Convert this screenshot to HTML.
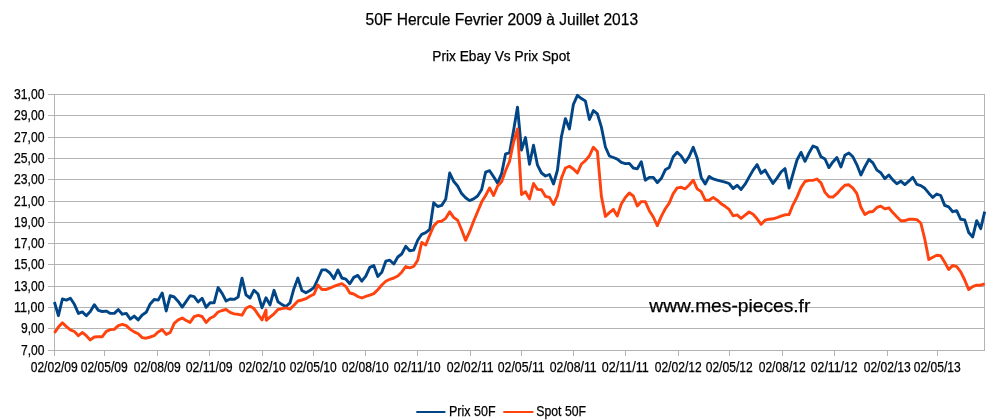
<!DOCTYPE html>
<html><head><meta charset="utf-8"><title>50F Hercule</title>
<style>
html,body{margin:0;padding:0;background:#fff;}
body{width:1004px;height:420px;overflow:hidden;font-family:"Liberation Sans",sans-serif;}
svg{display:block}
text{font-family:"Liberation Sans",sans-serif;fill:#000;stroke:#000;stroke-width:0.25px}
</style></head><body>
<svg width="1004" height="420" viewBox="0 0 1004 420">
<rect width="1004" height="420" fill="#fff"/>

<g stroke="#b3b3b3" stroke-width="1" fill="none" shape-rendering="crispEdges">
<line x1="48" y1="94.5" x2="985" y2="94.5"/>
<line x1="48" y1="115.5" x2="985" y2="115.5"/>
<line x1="48" y1="137.5" x2="985" y2="137.5"/>
<line x1="48" y1="158.5" x2="985" y2="158.5"/>
<line x1="48" y1="179.5" x2="985" y2="179.5"/>
<line x1="48" y1="201.5" x2="985" y2="201.5"/>
<line x1="48" y1="222.5" x2="985" y2="222.5"/>
<line x1="48" y1="243.5" x2="985" y2="243.5"/>
<line x1="48" y1="264.5" x2="985" y2="264.5"/>
<line x1="48" y1="286.5" x2="985" y2="286.5"/>
<line x1="48" y1="307.5" x2="985" y2="307.5"/>
<line x1="48" y1="328.5" x2="985" y2="328.5"/>
<line x1="48" y1="350.5" x2="985" y2="350.5"/>
<line x1="54.5" y1="94" x2="54.5" y2="351"/>
<line x1="984.5" y1="94" x2="984.5" y2="351"/>
<line x1="54.5" y1="350" x2="54.5" y2="356"/>
<line x1="104.5" y1="350" x2="104.5" y2="356"/>
<line x1="157.5" y1="350" x2="157.5" y2="356"/>
<line x1="209.5" y1="350" x2="209.5" y2="356"/>
<line x1="262.5" y1="350" x2="262.5" y2="356"/>
<line x1="313.5" y1="350" x2="313.5" y2="356"/>
<line x1="365.5" y1="350" x2="365.5" y2="356"/>
<line x1="417.5" y1="350" x2="417.5" y2="356"/>
<line x1="470.5" y1="350" x2="470.5" y2="356"/>
<line x1="521.5" y1="350" x2="521.5" y2="356"/>
<line x1="573.5" y1="350" x2="573.5" y2="356"/>
<line x1="625.5" y1="350" x2="625.5" y2="356"/>
<line x1="678.5" y1="350" x2="678.5" y2="356"/>
<line x1="729.5" y1="350" x2="729.5" y2="356"/>
<line x1="782.5" y1="350" x2="782.5" y2="356"/>
<line x1="834.5" y1="350" x2="834.5" y2="356"/>
<line x1="887.5" y1="350" x2="887.5" y2="356"/>
<line x1="937.5" y1="350" x2="937.5" y2="356"/>
</g>
<g font-size="14" text-anchor="end">
<text x="44.5" y="99.0" textLength="30.5" lengthAdjust="spacingAndGlyphs">31,00</text>
<text x="44.5" y="120.0" textLength="30.5" lengthAdjust="spacingAndGlyphs">29,00</text>
<text x="44.5" y="142.0" textLength="30.5" lengthAdjust="spacingAndGlyphs">27,00</text>
<text x="44.5" y="163.0" textLength="30.5" lengthAdjust="spacingAndGlyphs">25,00</text>
<text x="44.5" y="184.0" textLength="30.5" lengthAdjust="spacingAndGlyphs">23,00</text>
<text x="44.5" y="206.0" textLength="30.5" lengthAdjust="spacingAndGlyphs">21,00</text>
<text x="44.5" y="227.0" textLength="30.5" lengthAdjust="spacingAndGlyphs">19,00</text>
<text x="44.5" y="248.0" textLength="30.5" lengthAdjust="spacingAndGlyphs">17,00</text>
<text x="44.5" y="269.0" textLength="30.5" lengthAdjust="spacingAndGlyphs">15,00</text>
<text x="44.5" y="291.0" textLength="30.5" lengthAdjust="spacingAndGlyphs">13,00</text>
<text x="44.5" y="312.0" textLength="30.5" lengthAdjust="spacingAndGlyphs">11,00</text>
<text x="44.5" y="333.0" textLength="23.5" lengthAdjust="spacingAndGlyphs">9,00</text>
<text x="44.5" y="355.0" textLength="23.5" lengthAdjust="spacingAndGlyphs">7,00</text>
</g>
<g font-size="14" text-anchor="middle">
<text x="54.2" y="371.9" textLength="47" lengthAdjust="spacingAndGlyphs">02/02/09</text>
<text x="104.2" y="371.9" textLength="47" lengthAdjust="spacingAndGlyphs">02/05/09</text>
<text x="157.2" y="371.9" textLength="47" lengthAdjust="spacingAndGlyphs">02/08/09</text>
<text x="209.2" y="371.9" textLength="47" lengthAdjust="spacingAndGlyphs">02/11/09</text>
<text x="262.2" y="371.9" textLength="47" lengthAdjust="spacingAndGlyphs">02/02/10</text>
<text x="313.2" y="371.9" textLength="47" lengthAdjust="spacingAndGlyphs">02/05/10</text>
<text x="365.2" y="371.9" textLength="47" lengthAdjust="spacingAndGlyphs">02/08/10</text>
<text x="417.2" y="371.9" textLength="47" lengthAdjust="spacingAndGlyphs">02/11/10</text>
<text x="470.2" y="371.9" textLength="47" lengthAdjust="spacingAndGlyphs">02/02/11</text>
<text x="521.2" y="371.9" textLength="47" lengthAdjust="spacingAndGlyphs">02/05/11</text>
<text x="573.2" y="371.9" textLength="47" lengthAdjust="spacingAndGlyphs">02/08/11</text>
<text x="625.2" y="371.9" textLength="47" lengthAdjust="spacingAndGlyphs">02/11/11</text>
<text x="678.2" y="371.9" textLength="47" lengthAdjust="spacingAndGlyphs">02/02/12</text>
<text x="729.2" y="371.9" textLength="47" lengthAdjust="spacingAndGlyphs">02/05/12</text>
<text x="782.2" y="371.9" textLength="47" lengthAdjust="spacingAndGlyphs">02/08/12</text>
<text x="834.2" y="371.9" textLength="47" lengthAdjust="spacingAndGlyphs">02/11/12</text>
<text x="887.2" y="371.9" textLength="47" lengthAdjust="spacingAndGlyphs">02/02/13</text>
<text x="937.2" y="371.9" textLength="47" lengthAdjust="spacingAndGlyphs">02/05/13</text>
</g>
<text x="501.8" y="24.9" font-size="16" text-anchor="middle" textLength="272.5" lengthAdjust="spacingAndGlyphs">50F Hercule Fevrier 2009 à Juillet 2013</text>
<text x="501.2" y="60.5" font-size="14" text-anchor="middle" textLength="137.7" lengthAdjust="spacingAndGlyphs">Prix Ebay Vs Prix Spot</text>
<text x="649.3" y="311.5" font-size="19" textLength="161" lengthAdjust="spacingAndGlyphs">www.mes-pieces.fr</text>
<g fill="none" stroke-width="2.9" stroke-linejoin="round" stroke-linecap="butt">
<path stroke="#004586" d="M54.4,302.0 L58.4,315.7 L62.4,299.0 L66.4,300.1 L70.4,298.2 L74.4,304.3 L78.4,313.4 L82.3,311.9 L86.3,315.7 L90.3,311.5 L94.3,304.7 L98.3,310.4 L102.3,311.5 L106.3,311.1 L110.3,313.4 L114.3,313.4 L118.3,309.6 L122.3,314.2 L126.3,313.4 L130.3,319.1 L134.2,316.1 L138.2,319.9 L142.2,315.0 L146.2,312.3 L150.2,303.9 L154.2,299.5 L158.2,300.1 L162.2,292.9 L166.2,311.0 L170.2,295.7 L174.2,297.0 L178.2,301.4 L182.2,307.1 L186.2,301.4 L190.1,295.7 L194.1,296.7 L198.1,302.0 L202.1,298.2 L206.1,307.3 L210.1,302.8 L214.1,302.9 L218.1,287.6 L222.1,293.3 L226.1,301.0 L230.1,299.0 L234.1,299.4 L238.1,297.1 L242.0,278.1 L246.0,294.8 L250.0,298.0 L254.0,290.2 L258.0,294.0 L262.0,307.8 L266.0,297.8 L270.0,304.9 L274.0,290.3 L278.0,301.8 L282.0,304.6 L286.0,306.5 L290.0,302.9 L293.9,288.7 L297.9,278.1 L301.9,290.5 L305.9,292.8 L309.9,290.5 L313.9,287.6 L317.9,279.0 L321.9,269.9 L325.9,269.9 L329.9,273.0 L333.9,278.7 L337.9,269.9 L341.9,278.0 L345.9,279.2 L349.8,283.7 L353.8,277.4 L357.8,275.4 L361.8,281.2 L365.8,276.2 L369.8,267.3 L373.8,265.6 L377.8,276.4 L381.8,272.3 L385.8,261.2 L389.8,260.2 L393.8,264.0 L397.8,257.0 L401.7,254.0 L405.7,246.3 L409.7,250.7 L413.7,250.1 L417.7,240.2 L421.7,234.3 L425.7,232.6 L429.7,229.5 L433.7,202.7 L437.7,206.5 L441.7,205.4 L445.7,199.3 L449.7,173.0 L453.6,181.2 L457.6,186.0 L461.6,193.6 L465.6,197.8 L469.6,200.6 L473.6,198.9 L477.6,196.0 L481.6,189.8 L485.6,172.2 L489.6,170.7 L493.6,176.8 L497.6,183.1 L501.6,173.6 L505.6,153.8 L509.5,152.9 L513.5,131.0 L517.5,107.1 L521.5,150.0 L525.5,137.6 L529.5,164.3 L533.5,145.2 L537.5,165.2 L541.5,173.0 L545.5,176.0 L549.5,174.5 L553.5,184.0 L557.5,170.0 L561.4,136.7 L565.4,118.6 L569.4,129.0 L573.4,104.3 L577.4,95.3 L581.4,98.6 L585.4,101.0 L589.4,119.5 L593.4,110.6 L597.4,113.8 L601.4,127.1 L605.4,147.0 L609.4,156.0 L613.4,157.5 L617.3,159.2 L621.3,162.4 L625.3,163.6 L629.3,163.4 L633.3,168.0 L637.3,168.8 L641.3,161.8 L645.3,180.2 L649.3,177.4 L653.3,177.4 L657.3,182.7 L661.3,178.3 L665.3,169.8 L669.2,167.5 L673.2,156.8 L677.2,152.2 L681.2,156.0 L685.2,162.5 L689.2,156.4 L693.2,147.3 L697.2,158.3 L701.2,177.4 L705.2,184.0 L709.2,176.4 L713.2,178.9 L717.2,180.2 L721.1,181.2 L725.1,182.1 L729.1,183.5 L733.1,188.5 L737.1,185.3 L741.1,189.4 L745.1,184.2 L749.1,177.1 L753.1,170.1 L757.1,164.6 L761.1,173.3 L765.1,170.1 L769.1,177.1 L773.0,183.4 L777.0,178.1 L781.0,172.0 L785.0,168.6 L789.0,188.0 L793.0,173.9 L797.0,160.0 L801.0,152.4 L805.0,161.3 L809.0,153.0 L813.0,146.1 L817.0,147.6 L821.0,156.8 L825.0,159.0 L828.9,167.6 L832.9,161.9 L836.9,157.5 L840.9,167.0 L844.9,155.2 L848.9,153.0 L852.9,156.8 L856.9,164.8 L860.9,175.0 L864.9,166.7 L868.9,159.4 L872.9,162.9 L876.9,170.1 L880.8,172.7 L884.8,178.6 L888.8,175.0 L892.8,179.9 L896.8,183.7 L900.8,181.2 L904.8,184.6 L908.8,181.2 L912.8,177.4 L916.8,184.4 L920.8,185.6 L924.8,188.3 L928.8,193.2 L932.8,197.4 L936.7,194.0 L940.7,195.5 L944.7,205.4 L948.7,206.9 L952.7,211.7 L956.7,210.7 L960.7,219.3 L964.7,219.9 L968.7,232.5 L972.7,236.9 L976.7,220.7 L980.7,228.7 L984.7,211.7"/>
<path stroke="#ff420e" d="M54.4,332.9 L58.4,327.1 L62.4,322.7 L66.4,326.6 L70.4,329.8 L74.4,331.5 L78.4,335.7 L82.3,332.5 L86.3,335.7 L90.3,339.9 L94.3,337.0 L98.3,336.7 L102.3,336.7 L106.3,331.3 L110.3,329.6 L114.3,329.4 L118.3,325.6 L122.3,324.3 L126.3,325.6 L130.3,329.4 L134.2,331.9 L138.2,333.8 L142.2,337.6 L146.2,338.2 L150.2,337.0 L154.2,335.7 L158.2,331.9 L162.2,329.6 L166.2,334.4 L170.2,332.5 L174.2,323.3 L178.2,319.9 L182.2,318.0 L186.2,320.5 L190.1,322.4 L194.1,316.7 L198.1,315.3 L202.1,316.5 L206.1,322.5 L210.1,318.3 L214.1,316.2 L218.1,312.0 L222.1,310.5 L226.1,309.5 L230.1,312.4 L234.1,313.9 L238.1,314.3 L242.0,315.2 L246.0,308.2 L250.0,306.3 L254.0,308.6 L258.0,314.3 L262.0,319.9 L266.0,310.0 L266.3,320.3 L270.0,317.1 L274.0,313.8 L278.0,309.5 L282.0,308.6 L286.0,307.9 L290.0,309.1 L293.9,305.3 L297.9,301.0 L301.9,300.0 L305.9,298.7 L309.9,296.2 L313.9,294.3 L317.9,285.1 L321.9,289.5 L325.9,289.5 L329.9,288.2 L333.9,286.3 L337.9,284.8 L341.9,283.7 L345.9,286.6 L349.8,293.0 L353.8,294.0 L357.8,296.5 L361.8,298.0 L365.8,296.4 L369.8,295.1 L373.8,293.6 L377.8,289.8 L381.8,285.0 L385.8,281.2 L389.8,279.3 L393.8,278.0 L397.8,276.0 L401.7,272.2 L405.7,266.5 L409.7,267.9 L413.7,266.5 L417.7,260.2 L421.7,242.5 L425.7,245.0 L429.7,235.3 L433.7,226.0 L437.7,221.8 L441.7,221.2 L445.7,218.3 L449.7,211.7 L453.6,217.4 L457.6,220.2 L461.6,229.8 L465.6,240.3 L469.6,231.7 L473.6,221.2 L477.6,211.7 L481.6,202.1 L485.6,195.5 L489.6,187.9 L493.6,195.5 L497.6,186.0 L501.6,181.8 L505.6,170.5 L509.5,161.5 L513.5,142.4 L517.5,129.0 L521.5,194.5 L525.5,191.7 L529.5,198.9 L533.5,183.5 L537.5,189.4 L541.5,189.8 L545.5,196.4 L549.5,197.4 L553.5,204.6 L557.5,195.5 L561.4,178.3 L565.4,168.0 L569.4,166.2 L573.4,169.0 L577.4,173.0 L581.4,164.0 L585.4,160.6 L589.4,155.8 L593.4,147.2 L597.4,151.5 L601.4,196.4 L605.4,216.4 L609.4,212.6 L613.4,209.4 L617.3,215.9 L621.3,204.0 L625.3,197.4 L629.3,193.0 L633.3,196.0 L637.3,206.0 L641.3,201.6 L645.3,201.6 L649.3,210.7 L653.3,217.0 L657.3,225.6 L661.3,216.4 L665.3,208.8 L669.2,203.1 L673.2,193.6 L677.2,187.9 L681.2,187.3 L685.2,188.8 L689.2,185.0 L693.2,180.2 L697.2,188.8 L701.2,191.7 L705.2,200.2 L709.2,200.2 L713.2,197.4 L717.2,200.2 L721.1,203.7 L725.1,206.3 L729.1,209.4 L733.1,215.8 L737.1,214.9 L741.1,218.4 L745.1,215.2 L749.1,212.0 L753.1,214.3 L757.1,218.8 L761.1,224.3 L765.1,220.2 L769.1,219.2 L773.0,218.8 L777.0,217.6 L781.0,216.2 L785.0,214.8 L789.0,214.6 L793.0,204.8 L797.0,197.1 L801.0,187.6 L805.0,181.5 L809.0,180.4 L813.0,180.4 L817.0,179.0 L821.0,182.9 L825.0,192.4 L828.9,196.8 L832.9,197.1 L836.9,193.7 L840.9,189.1 L844.9,185.3 L848.9,184.8 L852.9,188.2 L856.9,193.6 L860.9,207.3 L864.9,214.6 L868.9,212.0 L872.9,211.5 L876.9,207.4 L880.8,206.1 L884.8,208.9 L888.8,207.8 L892.8,212.6 L896.8,216.8 L900.8,220.7 L904.8,220.7 L908.8,219.3 L912.8,219.3 L916.8,219.6 L920.8,223.0 L924.8,239.2 L928.8,259.6 L932.8,257.2 L936.7,255.3 L940.7,255.8 L944.7,262.3 L948.7,269.6 L952.7,265.4 L956.7,266.7 L960.7,271.8 L964.7,280.0 L968.7,289.6 L972.7,286.7 L976.7,285.2 L980.7,285.2 L984.7,283.8"/>
</g>
<line x1="416.3" y1="412" x2="445.4" y2="412" stroke="#004586" stroke-width="2"/>
<line x1="503.3" y1="412" x2="533.4" y2="412" stroke="#ff420e" stroke-width="2"/>
<text x="449" y="415.6" font-size="14" textLength="46.6" lengthAdjust="spacingAndGlyphs">Prix 50F</text>
<text x="536.3" y="415.6" font-size="14" textLength="49.7" lengthAdjust="spacingAndGlyphs">Spot 50F</text>
</svg></body></html>
